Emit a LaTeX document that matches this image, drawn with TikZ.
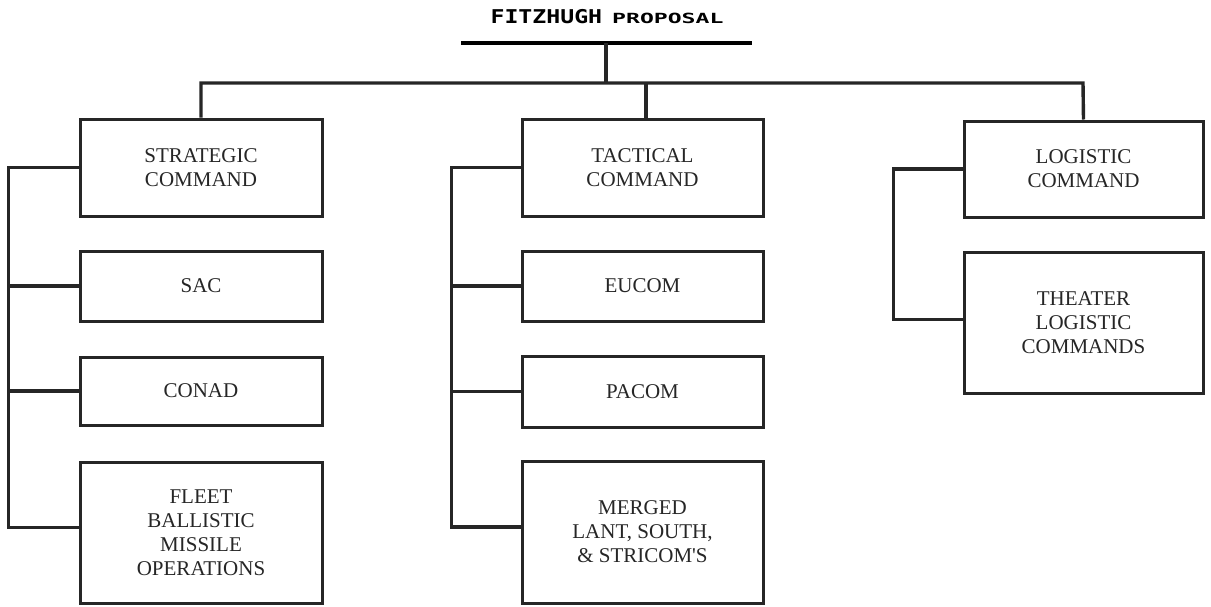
\documentclass[tikz,border=0pt]{standalone}
\usepackage{fontspec}
\setmainfont{Liberation Serif}
\newfontfamily\titlefont{DejaVu Sans Mono}
\usepackage{graphicx}
\tikzset{
  orgbox/.style={draw=black!85, line width=3pt, fill=white, align=center,
    inner sep=0pt, text=black!85, font=\fontsize{21}{24}\selectfont},
  wide/.style={minimum width=242pt},
  conn/.style={draw=black!85, line width=3.4pt, line join=miter},
  titlebar/.style={draw=black, line width=4.5pt},
}
\begin{document}
\begin{tikzpicture}[x=1pt,y=-1pt]
\useasboundingbox (0,0) rectangle (1211,606);
% title
\node (title) at (607,17) {\titlefont\bfseries\scalebox{1.22}[1]{\fontsize{19}{20}\selectfont FITZHUGH}\hspace{10pt}\scalebox{1.65}[1]{\fontsize{14}{16}\selectfont PROPOSAL}};
\coordinate (barl) at (461,43);
\coordinate (barr) at (752,43);
\coordinate (barm) at (606,43);
\coordinate (hub) at (606,83);
\coordinate (hl) at (201,83);
\coordinate (hr) at (1083,83);
\coordinate (tj) at (646,83);
% boxes
\node[orgbox, wide, minimum height=97pt] (strat) at (201,167.5) {STRATEGIC\\COMMAND};
\node[orgbox, wide, minimum height=70pt] (sac) at (201,286) {SAC};
\node[orgbox, wide, minimum height=68pt] (conad) at (201,391) {CONAD};
\node[orgbox, wide, minimum height=141pt] (fleet) at (201,532.5) {FLEET\\BALLISTIC\\MISSILE\\OPERATIONS};
\node[orgbox, minimum width=241pt, minimum height=97pt] (tact) at (642.5,167.5) {TACTICAL\\COMMAND};
\node[orgbox, minimum width=241pt, minimum height=70pt] (eucom) at (642.5,286) {EUCOM};
\node[orgbox, minimum width=241pt, minimum height=71pt] (pacom) at (642.5,391.5) {PACOM};
\node[orgbox, minimum width=241pt, minimum height=142pt] (merged) at (642.5,532) {MERGED\\LANT, SOUTH,\\\& STRICOM\textquotesingle S};
\node[orgbox, minimum width=239pt, minimum height=96pt] (logi) at (1083.5,169) {LOGISTIC\\COMMAND};
\node[orgbox, minimum width=239pt, minimum height=141pt] (theater) at (1083.5,322.5) {THEATER\\LOGISTIC\\COMMANDS};
% title bar and top connectors
\draw[titlebar] (barl) -- (barr);
\draw[conn] (barm) -- (hub);
\draw[conn] (strat.north) -- (hl) -- (hr) -- (logi.north);
\draw[conn] (tj) -- (tj |- tact.north);
% strategic spine
\draw[conn] (strat.west) -- ++(-70,0) |- ([yshift=5pt]fleet.west);
\draw[conn] (sac.west) -- ++(-70,0);
\draw[conn] (conad.west) -- ++(-70,0);
% tactical spine
\draw[conn] (tact.west) -- ++(-69,0) |- ([yshift=5pt]merged.west);
\draw[conn] (eucom.west) -- ++(-69,0);
\draw[conn] (pacom.west) -- ++(-69,0);
% logistic spine
\draw[conn] (logi.west) -- ++(-69,0) |- ([yshift=3pt]theater.west);
\end{tikzpicture}
\end{document}
